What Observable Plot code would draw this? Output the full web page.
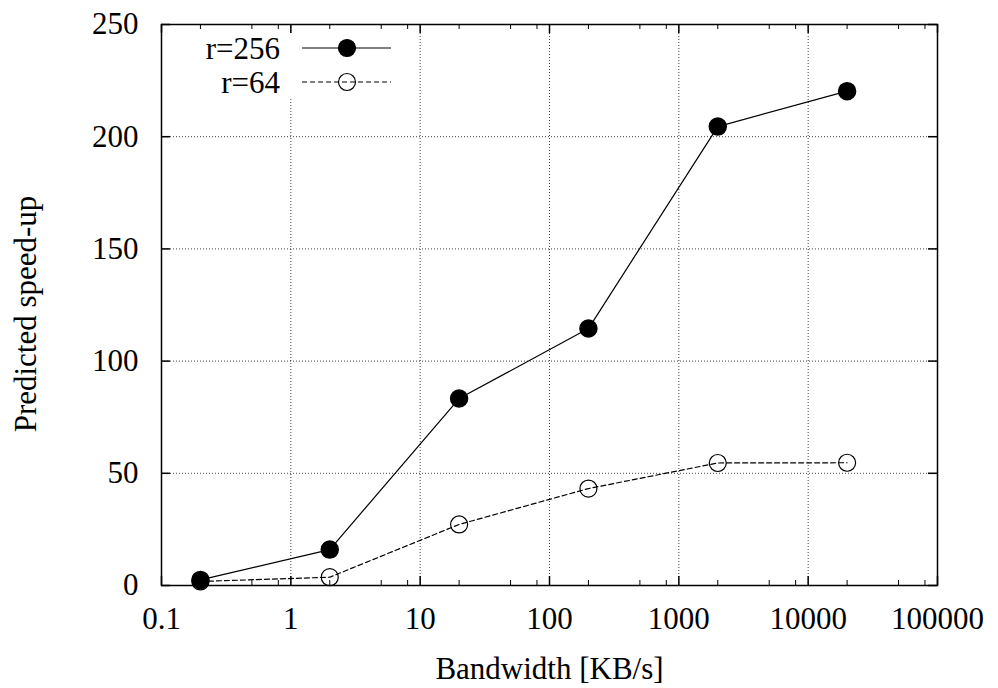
<!DOCTYPE html>
<html>
<head>
<meta charset="utf-8">
<script src="https://cdn.jsdelivr.net/npm/d3@7"></script>
<script src="https://cdn.jsdelivr.net/npm/@observablehq/plot@0.6"></script>
<style>
  body { margin: 0; background: #fff; }
  #chart { position: relative; width: 998px; height: 688px; }
</style>
</head>
<body>
<div id="chart"></div>
<script>
// ---- data ----
const bandwidth = [0.2, 2, 20, 200, 2000, 20000];
const speedup256 = [2.5, 16, 83.3, 114.5, 204.5, 220.3];
const speedup64 = [1.8, 3.7, 27.2, 43.2, 54.6, 54.7];
const seriesNames = ["r=256", "r=64"];
const xTickValues = [0.1, 1, 10, 100, 1000, 10000, 100000];
const xTickLabels = ["0.1", "1", "10", "100", "1000", "10000", "100000"];
const xMinorMultipliers = [2, 5, 8];
const yTickValues = [0, 50, 100, 150, 200, 250];
const xLabel = "Bandwidth [KB/s]";
const yLabel = "Predicted speed-up";

// ---- layout ----
const W = 998, H = 688;
const mL = 161, mR = 61, mT = 24, mB = 103;
const innerW = W - mL - mR, innerH = H - mT - mB;
const FONT = "'Liberation Serif', 'Times New Roman', serif";
const FS = 31;

const xMinor = xTickValues.slice(0, -1).flatMap(d => xMinorMultipliers.map(m => d * m));
const rows256 = bandwidth.map((b, i) => ({b, v: speedup256[i]}));
const rows64 = bandwidth.map((b, i) => ({b, v: speedup64[i]}));
const gridStyle = {stroke: "#000", strokeOpacity: 0.75, strokeDasharray: "1,2", strokeWidth: 1};
const majorLen = 9, minorLen = 5;

const plot = Plot.plot({
  width: W, height: H,
  marginLeft: mL, marginRight: mR, marginTop: mT, marginBottom: mB,
  style: {fontFamily: FONT, fontSize: FS + "px", color: "#000", background: "#fff"},
  x: {type: "log", domain: [0.1, 100000]},
  y: {domain: [0, 250]},
  marks: [
    Plot.ruleX(xTickValues.slice(1, -1), {x: d => d, ...gridStyle}),
    Plot.ruleY(yTickValues.slice(1, -1), {y: d => d, ...gridStyle}),
    // inward ticks, mirrored on all sides
    Plot.tickX(xTickValues, {x: d => d, insetTop: innerH - majorLen, strokeWidth: 1.5}),
    Plot.tickX(xTickValues, {x: d => d, insetBottom: innerH - majorLen, strokeWidth: 1.5}),
    Plot.tickX(xMinor, {x: d => d, insetTop: innerH - minorLen, strokeWidth: 1}),
    Plot.tickX(xMinor, {x: d => d, insetBottom: innerH - minorLen, strokeWidth: 1}),
    Plot.tickY(yTickValues, {y: d => d, insetRight: innerW - majorLen, strokeWidth: 1.5}),
    Plot.tickY(yTickValues, {y: d => d, insetLeft: innerW - majorLen, strokeWidth: 1.5}),
    Plot.frame({stroke: "#000", strokeWidth: 1.5}),
    Plot.axisX(xTickValues, {tickSize: 0, tickPadding: 21, label: null,
      tickFormat: d => xTickLabels[xTickValues.indexOf(d)], fontSize: FS}),
    Plot.axisY(yTickValues, {tickSize: 0, tickPadding: 23, label: null, fontSize: FS}),
    Plot.text([xLabel], {frameAnchor: "bottom", dy: 93, lineAnchor: "bottom", textAnchor: "middle", fontSize: FS, text: d => d}),
    Plot.text([yLabel], {frameAnchor: "left", dx: -135, dy: 9, rotate: -90, lineAnchor: "middle", textAnchor: "middle", fontSize: FS, text: d => d}),
    // series
    Plot.line(rows256, {x: "b", y: "v", stroke: "#000", strokeWidth: 1.2}),
    Plot.line(rows64, {x: "b", y: "v", stroke: "#000", strokeWidth: 1.2, strokeDasharray: "5,3"}),
    Plot.dot(rows64, {x: "b", y: "v", r: 8.5, stroke: "#000", strokeWidth: 1.2, fill: "none"}),
    Plot.dot(rows256, {x: "b", y: "v", r: 8.5, fill: "#000", stroke: "#000"})
  ]
});
document.getElementById("chart").appendChild(plot);

// ---- legend (inside plot, top-left, opaque box) ----
const svg = d3.select(plot);
const lg = svg.append("g").attr("font-family", FONT).attr("font-size", FS);
lg.append("rect").attr("x", mL + 12).attr("y", mT + 9).attr("width", 228).attr("height", 65).attr("fill", "#fff");
const legendItems = [
  {name: seriesNames[0], dash: null, fill: "#000"},
  {name: seriesNames[1], dash: "5,3", fill: "none"}
];
legendItems.forEach((it, i) => {
  const cy = mT + 24 + i * 34;
  lg.append("text").attr("x", mL + 119).attr("y", cy).attr("dy", "0.35em")
    .attr("text-anchor", "end").attr("fill", "#000").text(it.name);
  lg.append("line").attr("x1", mL + 141).attr("x2", mL + 230).attr("y1", cy).attr("y2", cy)
    .attr("stroke", "#000").attr("stroke-width", 1.2).attr("stroke-dasharray", it.dash);
  lg.append("circle").attr("cx", mL + 186).attr("cy", cy).attr("r", 8.5)
    .attr("fill", it.fill).attr("stroke", "#000").attr("stroke-width", 1.2);
});
</script>
</body>
</html>
